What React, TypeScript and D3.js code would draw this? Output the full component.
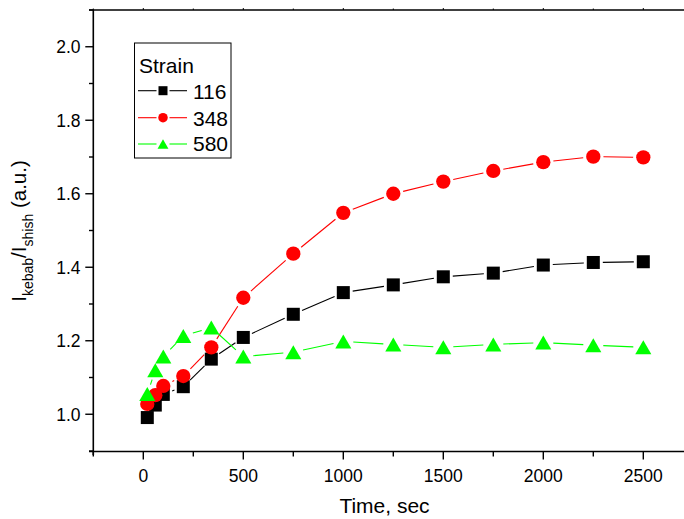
import React from "react";
import * as d3 from "d3";

const times = [20, 60, 100, 200, 340, 500, 750, 1000, 1250, 1500, 1750, 2000, 2250, 2500];
const strain116 = [0.991, 1.025, 1.054, 1.075, 1.15, 1.209, 1.272, 1.331, 1.352, 1.374, 1.384, 1.406, 1.413, 1.415];
const strain348 = [1.028, 1.052, 1.077, 1.104, 1.182, 1.317, 1.437, 1.548, 1.6, 1.633, 1.662, 1.686, 1.701, 1.699];
const strain580 = [1.055, 1.12, 1.157, 1.213, 1.236, 1.157, 1.169, 1.198, 1.19, 1.182, 1.19, 1.195, 1.188, 1.182];
const seriesNames = ["116", "348", "580"];
const xTickLabels = [0, 500, 1000, 1500, 2000, 2500];
const yTickLabels = [1.0, 1.2, 1.4, 1.6, 1.8, 2.0];

const W = 684;
const H = 519;
const FONT = "'Liberation Sans', Arial, Helvetica, sans-serif";

const x = d3.scaleLinear().domain([-250, 2750]).range([93.3, 693.3]);
const y = d3.scaleLinear().domain([0.9, 2.1]).range([451, 10]);

type Kind = "square" | "circle" | "triangle";

const series: { name: string; values: number[]; color: string; kind: Kind }[] = [
  { name: seriesNames[0], values: strain116, color: "#000000", kind: "square" },
  { name: seriesNames[1], values: strain348, color: "#ff0000", kind: "circle" },
  { name: seriesNames[2], values: strain580, color: "#00ff00", kind: "triangle" },
];

function Marker({ kind, cx, cy, size, color }: { kind: Kind; cx: number; cy: number; size: number; color: string }) {
  if (kind === "square") {
    return <rect x={cx - size / 2} y={cy - size / 2} width={size} height={size} fill={color} />;
  }
  if (kind === "circle") {
    return <circle cx={cx} cy={cy} r={size / 2} fill={color} />;
  }
  const w = size * 1.15;
  const h = size;
  const p = `M${cx},${cy - h / 2}L${cx + w / 2},${cy + h / 2}L${cx - w / 2},${cy + h / 2}Z`;
  return <path d={p} fill={color} />;
}

function segments(values: number[], gap: number) {
  const pts = values.map((v, i) => [x(times[i]), y(v)]);
  const segs: number[][] = [];
  for (let i = 0; i < pts.length - 1; i++) {
    const [x1, y1] = pts[i];
    const [x2, y2] = pts[i + 1];
    const dx = x2 - x1;
    const dy = y2 - y1;
    const len = Math.hypot(dx, dy);
    if (len <= 2 * gap + 1) continue;
    const ux = dx / len;
    const uy = dy / len;
    segs.push([x1 + ux * gap, y1 + uy * gap, x2 - ux * gap, y2 - uy * gap]);
  }
  return segs;
}

export default function App() {
  const majorX = xTickLabels;
  const minorX = d3.range(-250, 2751, 500);
  const majorY = yTickLabels;
  const minorY = d3.range(0.9, 2.11, 0.2);
  const markerSize: Record<Kind, number> = { square: 13, circle: 14.3, triangle: 14 };
  const legendY = [90.7, 117.7, 144];
  const legendText = [99, 125.5, 151];
  const legendSize: Record<Kind, number> = { square: 9, circle: 9.5, triangle: 9.5 };

  return (
    <svg
      width={W}
      height={H}
      style={{ position: "absolute", left: 0, top: 0, background: "#fff" }}
      fontFamily={FONT}
    >
      <rect x={0} y={0} width={W} height={H} fill="#fff" />
      {/* axes frame */}
      <line x1={89} x2={W} y1={10} y2={10} stroke="#000" strokeWidth={1.6} />
      <line x1={93.3} x2={93.3} y1={10} y2={455} stroke="#000" strokeWidth={1.6} />
      <line x1={89} x2={W} y1={451.5} y2={451.5} stroke="#000" strokeWidth={1.6} />

      {/* x ticks */}
      {majorX.map((t) => (
        <g key={"mx" + t}>
          <line x1={x(t)} x2={x(t)} y1={451.5} y2={459.5} stroke="#000" strokeWidth={1.4} />
          <line x1={x(t)} x2={x(t)} y1={10} y2={8} stroke="#000" strokeWidth={1} />
          <text x={x(t)} y={482} textAnchor="middle" fontSize={17.5} fill="#000">
            {t}
          </text>
        </g>
      ))}
      {minorX.map((t) => (
        <g key={"nx" + t}>
          <line x1={x(t)} x2={x(t)} y1={451.5} y2={456.5} stroke="#000" strokeWidth={1.4} />
          <line x1={x(t)} x2={x(t)} y1={10} y2={8.5} stroke="#000" strokeWidth={1} />
        </g>
      ))}

      {/* y ticks */}
      {majorY.map((v) => (
        <g key={"my" + v}>
          <line x1={85.3} x2={93.3} y1={y(v)} y2={y(v)} stroke="#000" strokeWidth={1.4} />
          <text x={80.5} y={y(v)} dy="0.36em" textAnchor="end" fontSize={17.5} fill="#000">
            {v.toFixed(1)}
          </text>
        </g>
      ))}
      {minorY.map((v) => (
        <line key={"ny" + v} x1={89} x2={93.3} y1={y(v)} y2={y(v)} stroke="#000" strokeWidth={1.4} />
      ))}

      {/* axis titles */}
      <text x={384.5} y={512.5} textAnchor="middle" fontSize={21} fill="#000">
        Time, sec
      </text>
      <text transform="translate(26,231) rotate(-90)" textAnchor="middle" fontSize={20.5} fill="#000">
        <tspan>I</tspan>
        <tspan dy={7} fontSize={14}>kebab</tspan>
        <tspan dy={-7}>/I</tspan>
        <tspan dy={7} fontSize={14}>shish</tspan>
        <tspan dy={-7}> (a.u.)</tspan>
      </text>

      {/* series lines */}
      {series.map((s) =>
        segments(s.values, markerSize[s.kind] / 2 + 3).map((sg, i) => (
          <line
            key={s.name + "l" + i}
            x1={sg[0]}
            y1={sg[1]}
            x2={sg[2]}
            y2={sg[3]}
            stroke={s.color}
            strokeWidth={1.1}
          />
        ))
      )}
      {/* markers */}
      {series.map((s) =>
        s.values.map((v, i) => (
          <Marker
            key={s.name + "m" + i}
            kind={s.kind}
            cx={x(times[i])}
            cy={y(v)}
            size={markerSize[s.kind]}
            color={s.color}
          />
        ))
      )}

      {/* legend */}
      <rect x={134.5} y={43} width={96.5} height={115} fill="#fff" stroke="#000" strokeWidth={1} />
      <text x={139} y={72.5} fontSize={21} fill="#000">
        Strain
      </text>
      {series.map((s, i) => (
        <g key={"lg" + s.name}>
          <line x1={138} x2={156.5} y1={legendY[i]} y2={legendY[i]} stroke={s.color} strokeWidth={1.1} />
          <line x1={169.5} x2={187} y1={legendY[i]} y2={legendY[i]} stroke={s.color} strokeWidth={1.1} />
          <Marker kind={s.kind} cx={163} cy={legendY[i]} size={legendSize[s.kind]} color={s.color} />
          <text x={193} y={legendText[i]} fontSize={21} fill="#000">
            {s.name}
          </text>
        </g>
      ))}
    </svg>
  );
}
